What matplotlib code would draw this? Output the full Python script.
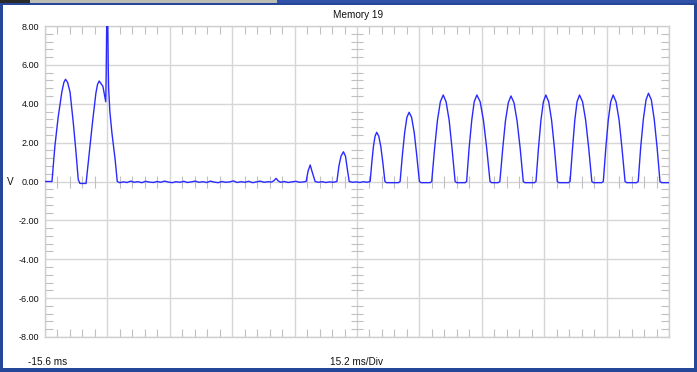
import matplotlib
matplotlib.use("Agg")
import matplotlib.pyplot as plt
from matplotlib.patches import Rectangle
from matplotlib.ticker import FixedLocator, FormatStrFormatter, NullFormatter

plt.rcParams['font.family'] = ['Liberation Sans', 'DejaVu Sans']

# ---------------- data (time in ms, voltage in V) ----------------
title = "Memory 19"
t_start = -15.6
ms_per_div = 15.2
n_div = 10

# start-up bursts incl. spike
burst_t = [-15.6, -13.9, -13.2, -12.4, -11.5, -11.0, -10.6, -10.1, -9.5, -8.7,
           -8.05, -7.5, -7.1, -5.6, -5.4, -4.8, -4.0, -3.2, -2.8, -2.4,
           -1.5, -0.8, -0.7, -0.5, -0.4, -0.2, -0.1, 0.2, 0.7, 1.5, 2.0]
burst_v = [0.0, 0.0, 1.8, 3.3, 4.6, 5.1, 5.26, 5.1, 4.6, 3.0,
           1.5, 0.1, -0.1, -0.1, 0.3, 1.5, 3.1, 4.55, 5.0, 5.17,
           4.9, 4.1, 5.5, 9.5, 10.0, 6.0, 4.8, 3.6, 2.5, 1.1, 0.0]

# quiet period
quiet_t = [2.6, 3.5, 4.4, 5.3, 6.1, 7.0, 8.0, 8.9, 9.8, 10.8,
           11.7, 12.6, 13.5, 14.5, 15.4, 16.3, 17.3, 18.2, 19.1, 20.0,
           21.0, 21.9, 22.8, 23.8, 24.7, 25.6, 26.6, 27.5, 28.4, 29.4,
           30.3, 31.2, 32.2, 33.1, 34.0, 35.0, 35.9, 36.8, 37.8, 38.7,
           39.6, 40.2, 40.7, 41.2, 41.8, 42.7, 43.6, 44.6, 45.5, 46.4,
           47.4]
quiet_v = [-0.06, -0.02, -0.05, 0.02, -0.04, -0.01, -0.06, 0.01, -0.03, -0.05,
           0.0, -0.04, 0.02, -0.03, -0.06, -0.01, -0.04, 0.01, -0.05, -0.02,
           0.02, -0.04, -0.01, -0.05, 0.02, -0.03, -0.06, 0.0, -0.04, -0.02,
           0.03, -0.05, -0.01, -0.04, 0.01, -0.06, -0.02, 0.02, -0.04, -0.01,
           -0.03, 0.05, 0.16, 0.03, -0.04, 0.0, -0.05, -0.02, 0.01, -0.04,
           -0.02]

# small recovery bumps
bump_t = [48.0, 48.5, 49.0, 49.4, 50.2, 51.0, 51.9, 52.8, 53.7, 54.6,
          55.5, 56.0, 56.5, 57.1, 57.6, 58.0, 58.5, 59.3, 60.2, 61.1,
          62.0, 62.8, 63.6]
bump_v = [0.0, 0.55, 0.85, 0.55, 0.0, -0.04, -0.01, -0.05, -0.02, -0.04,
          0.0, 0.8, 1.3, 1.53, 1.3, 0.7, 0.0, -0.04, -0.02, -0.05,
          -0.01, -0.04, 0.0]

# pulse train
train_t = [64.0, 64.4, 64.8, 65.2, 65.7, 66.2, 66.7, 67.2, 67.6, 70.5, 70.9,
           71.45, 72.0, 72.55, 73.1, 73.7, 74.35, 74.95, 75.6, 76.0, 78.2, 78.6,
           79.3, 80.0, 80.7, 81.4, 82.1, 82.85, 83.55, 84.3, 84.7, 86.7, 87.1,
           87.7, 88.35, 88.95, 89.6, 90.4, 91.2, 92.0, 92.8, 93.2, 94.8, 95.2,
           95.9, 96.55, 97.25, 97.9, 98.65, 99.4, 100.15, 100.9, 101.3, 103.6, 104.0,
           104.6, 105.2, 105.8, 106.4, 107.1, 107.8, 108.5, 109.2, 109.6, 111.9, 112.3,
           112.9, 113.45, 114.0, 114.6, 115.35, 116.1, 116.85, 117.6, 118.0, 120.0, 120.4,
           121.0, 121.6, 122.2, 122.8, 123.5, 124.25, 124.95, 125.7, 126.1, 128.5, 128.9,
           129.5, 130.15, 130.8, 131.4, 132.1, 132.8, 133.5, 134.2, 134.6, 136.4]
train_v = [0.96, 1.8, 2.33, 2.53, 2.33, 1.8, 0.96, 0.0, -0.06, -0.06, 0.0,
           1.35, 2.5, 3.3, 3.56, 3.3, 2.5, 1.35, 0.0, -0.06, -0.06, 0.0,
           1.7, 3.15, 4.1, 4.45, 4.1, 3.15, 1.7, 0.0, -0.06, -0.06, 0.0,
           1.7, 3.15, 4.1, 4.45, 4.1, 3.15, 1.7, 0.0, -0.06, -0.06, 0.0,
           1.7, 3.1, 4.05, 4.4, 4.05, 3.1, 1.7, 0.0, -0.06, -0.06, 0.0,
           1.7, 3.15, 4.1, 4.45, 4.1, 3.15, 1.7, 0.0, -0.06, -0.06, 0.0,
           1.7, 3.15, 4.1, 4.45, 4.1, 3.15, 1.7, 0.0, -0.06, -0.06, 0.0,
           1.7, 3.15, 4.1, 4.45, 4.1, 3.15, 1.7, 0.0, -0.06, -0.06, 0.0,
           1.75, 3.2, 4.2, 4.54, 4.2, 3.2, 1.75, 0.0, -0.06, -0.06]

y_ticks = [-8, -6, -4, -2, 0, 2, 4, 6, 8]

t = burst_t + quiet_t + bump_t + train_t
v = burst_v + quiet_v + bump_v + train_v

# ---------------- figure ----------------
W, H = 697, 372
fig = plt.figure(figsize=(W / 100, H / 100), dpi=100)
fig.patch.set_facecolor('white')

def px_rect(x0, y0, x1, y1, color):
    fig.add_artist(Rectangle((x0 / W, 1 - y1 / H), (x1 - x0) / W, (y1 - y0) / H,
                             transform=fig.transFigure, facecolor=color,
                             edgecolor='none', zorder=10))

navy = '#24479a'
# window frame
px_rect(0, 0, 3, H, navy)
px_rect(W - 3, 0, W, H, navy)
px_rect(0, H - 4, W, H, navy)
px_rect(0, 3, W, 5, navy)
px_rect(0, 0, 277, 3, '#bdbdb5')
px_rect(0, 0, 30, 3, '#2a2a2a')
px_rect(277, 0, W, 3, '#3152a8')

ax = fig.add_axes([45 / W, 1 - 337 / H, 624 / W, 311 / H])
ax.set_facecolor('white')

grid_c = '#d6d6d6'
tick_c = '#c0c0c0'
t_end = t_start + ms_per_div * n_div
x_major = [t_start + ms_per_div * k for k in range(n_div + 1)]
x_minor = [t_start + ms_per_div * k / 5 for k in range(n_div * 5 + 1) if k % 5]
y_minor = [(-8 + 0.4 * k) for k in range(41) if k % 5]

ax.set_xlim(t_start, t_end)
ax.set_ylim(-8, 8)
ax.xaxis.set_major_locator(FixedLocator(x_major))
ax.xaxis.set_minor_locator(FixedLocator(x_minor))
ax.xaxis.set_major_formatter(NullFormatter())
ax.yaxis.set_major_locator(FixedLocator(y_ticks))
ax.yaxis.set_minor_locator(FixedLocator(y_minor))
ax.yaxis.set_major_formatter(FormatStrFormatter('%.2f'))

ax.grid(which='major', color=grid_c, lw=1.0, zorder=0)
ax.set_axisbelow(True)
for s in ax.spines.values():
    s.set_color('#cfcfcf')
    s.set_linewidth(1.0)

ax.tick_params(which='major', length=0, pad=4, labelsize=6.5, labelcolor='#111111')
ax.tick_params(which='minor', direction='in', length=6, width=0.8, color=tick_c,
               top=True, right=True, bottom=True, left=True)

# centre cross ticks
x_mid = t_start + ms_per_div * n_div / 2
ax.plot([x_mid] * len(y_minor), y_minor, ls='none', marker='_', ms=8.6,
        mew=0.8, color=tick_c, zorder=1)
ax.plot(x_minor, [0] * len(x_minor), ls='none', marker='|', ms=8.6,
        mew=0.8, color=tick_c, zorder=1)

ax.plot(t, v, color='#2a2aff', lw=1.0, zorder=3)

fig.text(358 / W, 1 - 15 / H, title, ha='center', va='center', fontsize=7.2, color='#111111')
fig.text(10 / W, 1 - 182 / H, 'V', ha='center', va='center', fontsize=7.2, color='#111111')
fig.text(28 / W, 1 - 362 / H, '-15.6 ms', ha='left', va='center', fontsize=7.2, color='#111111')
fig.text(357 / W, 1 - 362 / H, '15.2 ms/Div', ha='center', va='center', fontsize=7.2, color='#111111')

fig.savefig('out.png', dpi=100)
